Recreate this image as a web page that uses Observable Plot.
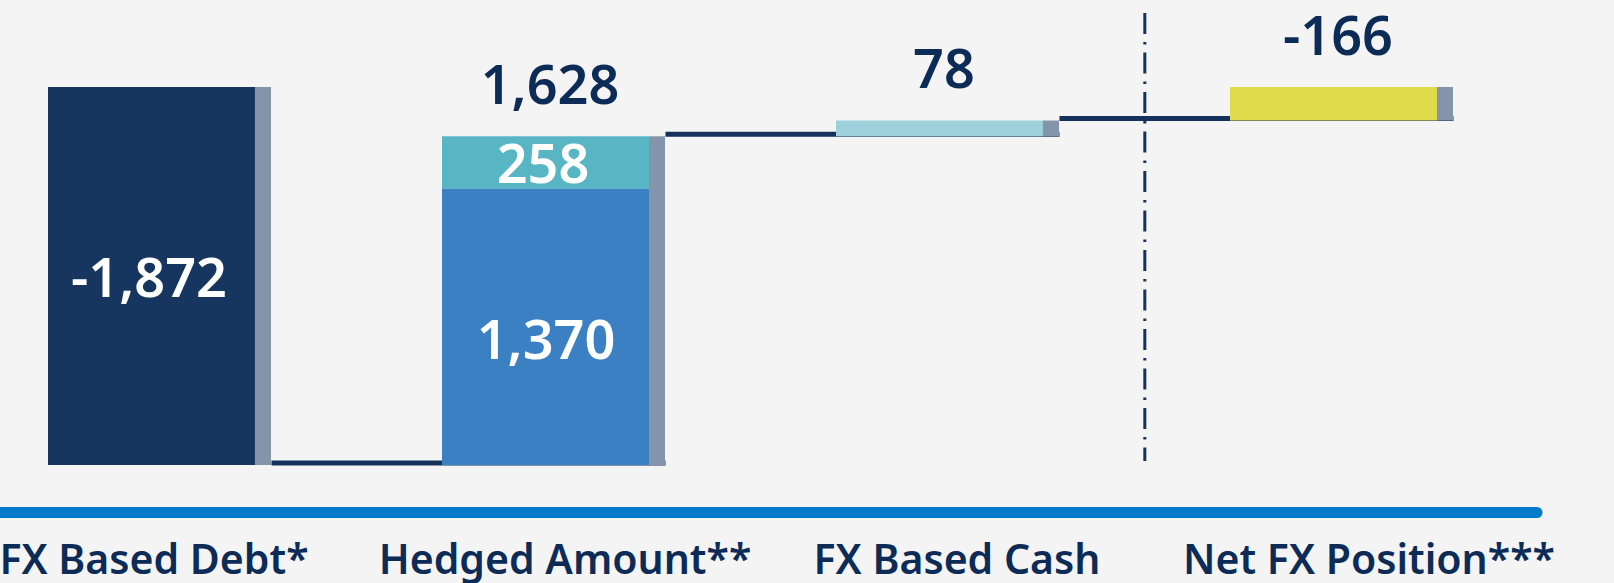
<!DOCTYPE html>
<html>
<head>
<meta charset="utf-8">
<script src="https://cdn.jsdelivr.net/npm/d3@7"></script>
<script src="https://cdn.jsdelivr.net/npm/@observablehq/plot@0.6"></script>
<style>
  html, body { margin: 0; padding: 0; background: #f4f4f4; }
  #chart svg { display: block; }
</style>
</head>
<body>
<div id="chart"></div>
<script>
// ---- data ----
const categories = ["FX Based Debt*", "Hedged Amount**", "FX Based Cash", "Net FX Position***"];
const segmentNames = ["FX based debt", "Hedged (1,370)", "Hedged (258)", "FX based cash", "Net FX position"];
const segmentCategory = ["FX Based Debt*", "Hedged Amount**", "Hedged Amount**", "FX Based Cash", "Net FX Position***"];
const segmentValues = [-1872, 1370, 258, 78, -166];
const segmentIsTotal = [false, false, false, false, true];
const topLabelCategories = ["Hedged Amount**", "FX Based Cash", "Net FX Position***"];

// ---- styles ----
const segmentColors = ["#16365f", "#3a80c3", "#58b6c4", "#9dd1dc", "#dfdb4a"];
const stripColor = "#8495ab";
const navy = "#15325c";
const textNavy = "#0c2b57";
const axisBlue = "#007bcc";
const labelDx = [-6, 11, 9, 27];

const fmt = (v) => v.toLocaleString("en-US");

// waterfall segments
let running = 0;
const segments = segmentValues.map((v, i) => {
  let y1, y2;
  if (segmentIsTotal[i]) { y1 = 0; y2 = running; }
  else { y1 = running; y2 = running + v; running = y2; }
  return { name: segmentNames[i], category: segmentCategory[i], value: v, y1, y2, mid: (y1 + y2) / 2, label: fmt(v) };
});

// per-category extents
const catData = categories.map((c) => {
  const segs = segments.filter((s) => s.category === c);
  const lo = d3.min(segs, (s) => Math.min(s.y1, s.y2));
  const hi = d3.max(segs, (s) => Math.max(s.y1, s.y2));
  const total = d3.sum(segs, (s) => s.value);
  const last = segs[segs.length - 1];
  return { category: c, lo, hi, total, end: last.y2, label: fmt(total) };
});

const connectors = catData.slice(0, -1).map((d, i) => ({ from: d.category, to: categories[i + 1], level: d.end }));

// layout of band scale
const xRange = [47, 1453];
const padInner = 0.4347;
const band = d3.scaleBand().domain(categories).range(xRange).paddingInner(padInner).paddingOuter(0);
const bw = band.bandwidth();
const step = band.step();
const stripW = 16;

const insideA = segments.filter((s) => s.name === "FX based debt" || s.name === "Hedged (258)");
const insideB = segments.filter((s) => s.name === "Hedged (1,370)");
const tops = catData.filter((d) => topLabelCategories.includes(d.category));

const chart = Plot.plot({
  width: 1614,
  height: 583,
  marginTop: 13,
  marginBottom: 122,
  marginLeft: 0,
  marginRight: 77,
  style: { background: "#f4f4f4", fontFamily: "'Noto Sans', sans-serif", overflow: "visible" },
  x: { type: "band", domain: categories, range: xRange, paddingInner: padInner, paddingOuter: 0, align: 0.5 },
  y: { domain: [-1872, 0], range: [465, 87], axis: null },
  color: { domain: segmentNames, range: segmentColors },
  marks: [
    Plot.ruleY([segmentValues[0]], { dy: 47, stroke: axisBlue, strokeWidth: 11, strokeLinecap: "round" }),
    Plot.ruleX([categories[3]], { dx: -step / 2, stroke: navy, strokeWidth: 3, strokeDasharray: "21 8 2.5 8" }),
    Plot.link(connectors, { x1: "from", x2: "to", y1: "level", y2: "level", stroke: navy, strokeWidth: 5, dx: bw / 2, dy: -2.5 }),
    Plot.barY(segments, { x: "category", y1: "y1", y2: "y2", fill: "name", insetRight: stripW }),
    Plot.barY(catData, { x: "category", y1: "lo", y2: "hi", fill: stripColor, insetLeft: bw - stripW }),
    Plot.text(insideA, { x: "category", y: "mid", text: "label", fill: "white", fontSize: 54, fontWeight: 600, dx: -stripW / 2 - 3, dy: 3 }),
    Plot.text(insideB, { x: "category", y: "mid", text: "label", fill: "white", fontSize: 54, fontWeight: 600, dx: -stripW / 2, dy: 15 }),
    Plot.text(tops, { x: "category", y: "hi", text: "label", fill: textNavy, fontSize: 54, fontWeight: 600, dx: -4, dy: -50 }),
    ...categories.map((c, i) =>
      Plot.axisX([c], { tickSize: 0, tickPadding: 83, fontSize: 41, fontWeight: 600, color: textNavy, label: null, dx: labelDx[i] })
    )
  ]
});

document.getElementById("chart").appendChild(chart);
</script>
</body>
</html>
